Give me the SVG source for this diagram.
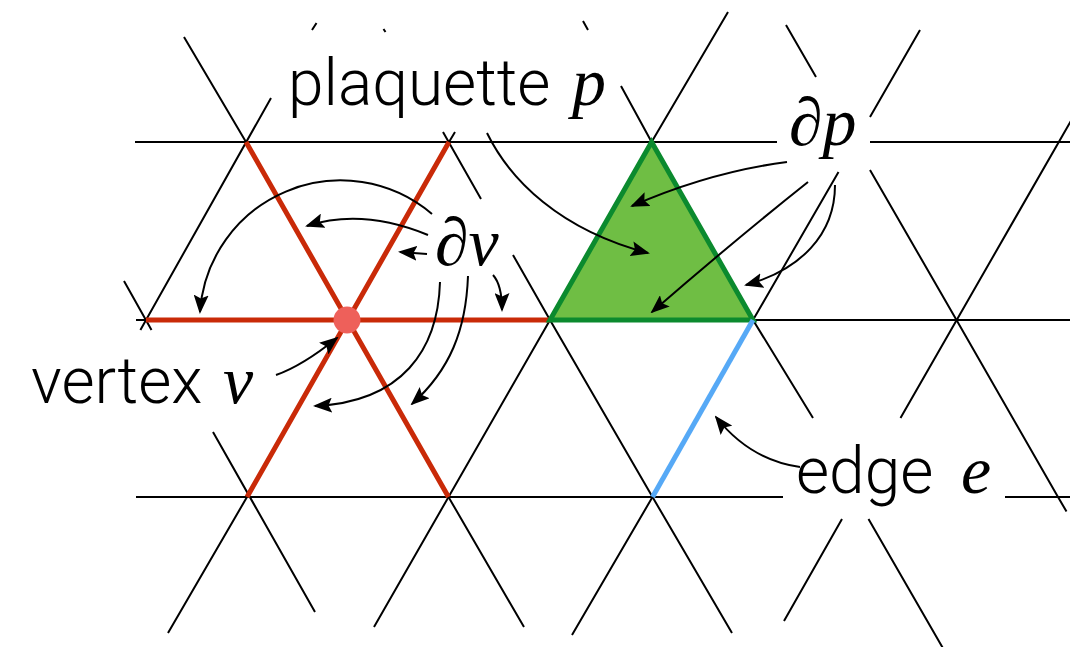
<svg xmlns="http://www.w3.org/2000/svg" width="1070" height="647" viewBox="0 0 1070 647">
<defs>
<style>
.lat{stroke:#000;stroke-width:2;fill:none}
.red{stroke:#C92A08;stroke-width:5;fill:none}
.arr{stroke:#000;stroke-width:2;fill:none;marker-end:url(#ah)}
.sans{font-family:Roboto,"Liberation Sans",sans-serif;font-weight:300;font-size:64px;fill:#000}
.math{font-family:"Liberation Serif","Times New Roman",serif;font-size:68px;fill:#000}
.it{font-style:italic}
</style>
<marker id="ah" markerUnits="userSpaceOnUse" markerWidth="19" markerHeight="15" refX="17" refY="7.5" orient="auto" viewBox="0 0 19 15"><path d="M0,0 L19,7.5 L0,15 L3.5,7.5 z" fill="#000"/></marker>
</defs>
<rect width="1070" height="647" fill="#fff"/>
<g id="lattice" class="lat">
<path d="M135,142 H777 M870,142 H1070 M136,320 H146 M753,320 H1070 M136,497 H783 M1005,497 H1070"/>
<path d="M140.4,330 L271,98 M312,30 L316.5,23 M449,142 L455,132 M247,497 L168,633 M374,627 L550,320 M651.6,142 L728,12 M572,635 L652.5,497 M753,320 L838.5,172 M870,117 L920,30 M784,621 L842,519 M900.5,418 L1076,112"/>
<path d="M124,281 L151.5,330 M213,432 L315,612 M184,37 L246,142 M448.5,497 L524,627 M383.5,29 L385.5,32 M443,132 L481,199 M513,255 L550,320 L652.5,497 L732,633 M583,21 L588,30 M621,86 L651.6,142 M753,320 L813,418 M868.5,519 L944,650 M786,25 L816,77 M870,170 L956.5,320 L1058,497 L1066.5,511.5"/>
</g>
<g id="vertex-star">
<path class="red" d="M246,142 L448.5,497 M247,497 L449,142 M146,320 H550"/>
</g>
<g id="plaquette">
<polygon points="550,320 651.6,142 753,320" fill="#6FBE44" stroke="#0B8A2E" stroke-width="5"/>
</g>
<g id="edge">
<path d="M652.5,497 L753,320" stroke="#56A9F6" stroke-width="5" fill="none"/>
</g>
<g id="vertex">
<circle cx="347" cy="320" r="13.5" fill="#EE605A"/>
</g>
<g id="connectors">
<path class="arr" d="M432,214 A141,141 0 0 0 200,312"/>
<path class="arr" d="M428,235 Q362,208 307,226"/>
<path class="arr" d="M427,254 L400,252"/>
<path class="arr" d="M493,275 Q502,285 502,310"/>
<path class="arr" d="M440,282 C438,350 402,402 315,406"/>
<path class="arr" d="M468,276 C466,330 450,370 412,404"/>
<path class="arr" d="M276,375 Q302,366 337,338"/>
<path class="arr" d="M487,133 C510,180 560,230 648,253"/>
<path class="arr" d="M787,162 Q710,172 632,206"/>
<path class="arr" d="M808,182 Q735,240 652,312"/>
<path class="arr" d="M835,185 C835,235 800,270 746,285"/>
<path class="arr" d="M800,467 Q750,460 716,417"/>
</g>
<g id="label-plaquette"><text class="sans" x="288" y="105">plaquette</text><text class="math it" x="572" y="105">p</text></g>
<g id="label-dv"><text class="math" x="435" y="265">∂<tspan class="it">v</tspan></text></g>
<g id="label-dp"><text class="math" x="789" y="145">∂<tspan class="it">p</tspan></text></g>
<g id="label-vertex"><text class="sans" x="31" y="403">vertex</text><text class="math it" x="223" y="403">v</text></g>
<g id="label-edge"><text class="sans" x="796" y="493">edge</text><text class="math it" x="961" y="493">e</text></g>
</svg>
